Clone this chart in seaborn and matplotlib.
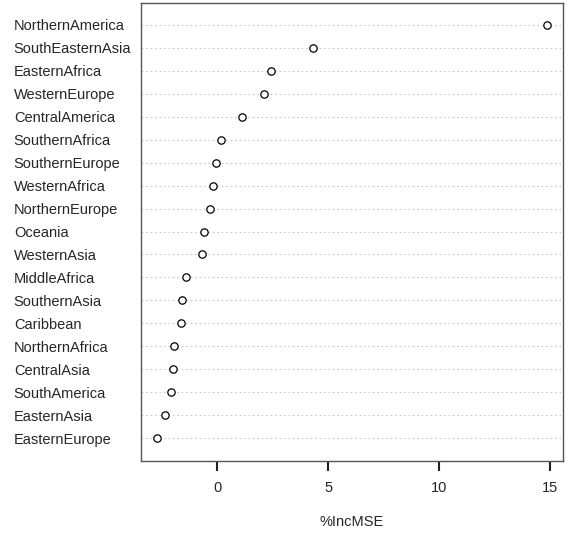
import matplotlib
matplotlib.use("Agg")
import matplotlib.pyplot as plt
import seaborn as sns
import pandas as pd

sns.set_style("ticks")
plt.rcParams["font.family"] = ["Liberation Sans", "DejaVu Sans"]

# datos (de arriba a abajo)
regiones = ["NorthernAmerica", "SouthEasternAsia", "EasternAfrica", "WesternEurope",
            "CentralAmerica", "SouthernAfrica", "SouthernEurope", "WesternAfrica",
            "NorthernEurope", "Oceania", "WesternAsia", "MiddleAfrica", "SouthernAsia",
            "Caribbean", "NorthernAfrica", "CentralAsia", "SouthAmerica", "EasternAsia",
            "EasternEurope"]
inc_mse = [14.86, 4.31, 2.42, 2.12, 1.11, 0.17, -0.05, -0.21, -0.32, -0.59, -0.68,
           -1.40, -1.58, -1.62, -1.95, -2.00, -2.09, -2.34, -2.72]
x_ticks = [0, 5, 10, 15]

data = pd.DataFrame({"region": regiones, "IncMSE": inc_mse})
data["pos"] = range(len(data))

fig, ax = plt.subplots(figsize=(5.68, 5.40), dpi=100)
fig.subplots_adjust(left=0.248, right=0.991, top=0.995, bottom=0.147)

ax.hlines(data["pos"], -10, 30, colors="#c8c8c8", linestyles=(0, (1.5, 2.5)), linewidth=0.8, zorder=1)
sns.scatterplot(data=data, x="IncMSE", y="pos", ax=ax, marker="o", s=28,
                facecolor="white", edgecolor="black", linewidth=0.9, zorder=3)

ax.set_xlim(-3.44, 15.56)
ax.set_ylim(18.98, -0.97)
ax.set_xticks(x_ticks)
ax.set_yticks(data["pos"])
ax.set_yticklabels(regiones, ha="left")
ax.set_xlabel("%IncMSE", fontsize=10.5, labelpad=14)
ax.set_ylabel("")
for s in ax.spines.values():
    s.set_visible(True)
    s.set_color("#555555")
    s.set_linewidth(1.0)
ax.tick_params(axis="y", length=0, pad=91.5, labelsize=10.5, left=False)
ax.tick_params(axis="x", length=0, pad=15, labelsize=10.5)

# marcas del eje x dibujadas a mano (estilo R)
ax.vlines(x_ticks, -0.003, -0.022, transform=ax.get_xaxis_transform(), colors="#222222",
          linewidth=1.5, clip_on=False, zorder=5)

plt.savefig("out.png", dpi=100)
plt.close()
